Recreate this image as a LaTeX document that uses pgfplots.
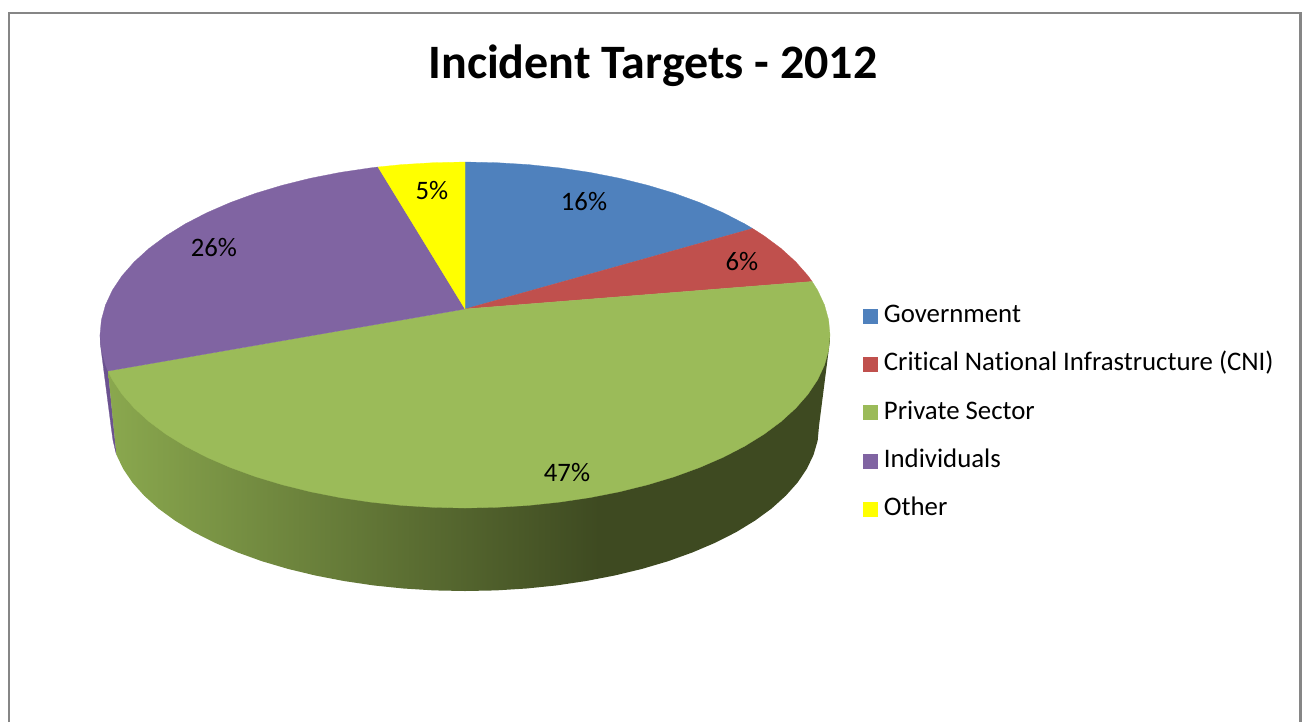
\documentclass[border=0pt]{standalone}
\usepackage{fontspec}
\setmainfont[Ligatures=CommonOff]{Carlito}
\usepackage{pgfplots}
\pgfplotsset{compat=1.18}

\definecolor{govblue}{HTML}{4F81BD}
\definecolor{cnired}{HTML}{C0504D}
\definecolor{privgreen}{HTML}{9BBB59}
\definecolor{indpurple}{HTML}{8064A2}
\definecolor{otheryellow}{HTML}{FFFF00}
\definecolor{indside}{HTML}{6B5290}
\definecolor{framegray}{HTML}{868686}
\definecolor{sidelight}{HTML}{8AA84E}
\definecolor{sidedark}{HTML}{3E4A21}

% rim of the private sector slice: lit on the left, dark from x = 600 on
\pgfdeclarehorizontalshading{rimgreen}{100bp}{
  color(0bp)=(sidelight); color(25bp)=(sidelight);
  color(59bp)=(sidedark); color(100bp)=(sidedark)}

\begin{document}
\begin{tikzpicture}
\begin{axis}[
  scale only axis,
  width=976.5pt, height=541.5pt,
  xmin=0, xmax=1302, ymin=0, ymax=722,
  y dir=reverse,
  hide axis,
  clip=true,
  legend cell align=left,
  legend image code/.code={\path[#1] (0pt,-5.25pt) rectangle (10.5pt,5.25pt);},
  legend style={
    draw=none, fill=none,
    at={(0.6628,0.4286)}, anchor=west,
    inner sep=0pt, outer sep=0pt,
    row sep=16.2pt,
    column sep=3pt,
    font=\fontsize{20.1}{22}\selectfont,
    nodes={text height=15pt, text depth=5pt, inner sep=0pt, inner xsep=2pt},
  },
]

% reserve the full chart area
\path (axis cs:0,0) (axis cs:1302,722);

% chart frame, open at the lower edge
\addplot[forget plot, draw=framegray, line width=2.2pt, sharp plot]
  coordinates {(9,722) (9,13) (1300.5,13) (1300.5,722)};

% rim of the individuals slice
\addplot[forget plot, draw=indside, fill=indside, line width=0.2pt]
  coordinates {(100,335) (100.5,345) (111,426) (113,440.4) (116.4,454.7) (108,371)} -- cycle;

% rim of the private sector slice
\addplot[forget plot, draw=none, shade, shading=rimgreen]
  coordinates {(830,335) (830,340) (819,426) (817.7,440.4) (813.6,454.7) (806.9,468.7) (797.7,482.4)
    (785.8,495.7) (771.6,508.5) (755,520.6) (736.2,532.1) (715.3,542.7) (692.5,552.4) (668.1,561.2)
    (642,568.9) (614.6,575.5) (586.1,581) (556.6,585.4) (526.5,588.5) (495.9,590.4) (465,591)
    (434.1,590.4) (403.5,588.5) (373.4,585.4) (343.9,581) (315.4,575.5) (288,568.9) (261.9,561.2)
    (237.5,552.4) (214.7,542.7) (193.8,532.1) (175,520.6) (158.4,508.5) (144.2,495.7) (132.3,482.4)
    (123.1,468.7) (116.4,454.7) (108,371)} -- cycle;

% top face, one outline per slice
\addplot[draw=govblue, fill=govblue, line width=0.2pt]
  coordinates {(465,309) (465,162) (496.8,162.7) (528.4,164.6) (559.5,167.9) (589.8,172.4) (619.3,178.2)
    (647.5,185.2) (674.4,193.3) (699.6,202.5) (723.1,212.7) (744.6,223.8) (752.6,228.5)} -- cycle;
\addlegendentry{Government}

\addplot[draw=cnired, fill=cnired, line width=0.2pt]
  coordinates {(465,309) (752.6,228.5) (764,235.8) (781.1,248.5) (795.8,261.9) (808,275.8) (812.1,281.5)} -- cycle;
\addlegendentry{Critical National Infrastructure (CNI)}

\addplot[draw=privgreen, fill=privgreen, line width=0.2pt]
  coordinates {(465,309) (812.1,281.5) (817.6,290.2) (824.5,305) (828.6,319.9) (830,335) (828.6,350.1)
    (824.5,365) (817.6,379.8) (808,394.2) (795.8,408.1) (781.1,421.5) (764,434.2) (744.6,446.2)
    (723.1,457.3) (699.6,467.5) (674.4,476.7) (647.5,484.8) (619.3,491.8) (589.8,497.6) (559.5,502.1)
    (528.4,505.4) (496.8,507.3) (465,508) (433.2,507.3) (401.6,505.4) (370.5,502.1) (340.2,497.6)
    (310.7,491.8) (282.5,484.8) (255.6,476.7) (230.4,467.5) (206.9,457.3) (185.4,446.2) (166,434.2)
    (148.9,421.5) (134.2,408.1) (122,394.2) (112.4,379.8) (108,371)} -- cycle;
\addlegendentry{Private Sector}

\addplot[draw=indpurple, fill=indpurple, line width=0.2pt]
  coordinates {(465,309) (108,371) (105.5,365) (101.4,350.1) (100,335) (101.4,319.9) (105.5,305)
    (112.4,290.2) (122,275.8) (134.2,261.9) (148.9,248.5) (166,235.8) (185.4,223.8) (206.9,212.7)
    (230.4,202.5) (255.6,193.3) (282.5,185.2) (310.7,178.2) (340.2,172.4) (370.5,167.9) (378,167)} -- cycle;
\addlegendentry{Individuals}

\addplot[draw=otheryellow, fill=otheryellow, line width=0.2pt]
  coordinates {(465,309) (378,167) (401.6,164.6) (433.2,162.7) (465,162)} -- cycle;
\addlegendentry{Other}

% slice shares
\node[font=\fontsize{20}{22}\selectfont] at (axis cs:584,202) {16\%};
\node[font=\fontsize{20}{22}\selectfont] at (axis cs:742,262) {6\%};
\node[font=\fontsize{20}{22}\selectfont] at (axis cs:567,473) {47\%};
\node[font=\fontsize{20}{22}\selectfont] at (axis cs:214,248) {26\%};
\node[font=\fontsize{20}{22}\selectfont] at (axis cs:432,190.5) {5\%};

% chart title
\node[font=\fontsize{36}{40}\selectfont\bfseries] at (axis cs:653,66) {Incident Targets - 2012};
\end{axis}
\end{tikzpicture}
\end{document}
